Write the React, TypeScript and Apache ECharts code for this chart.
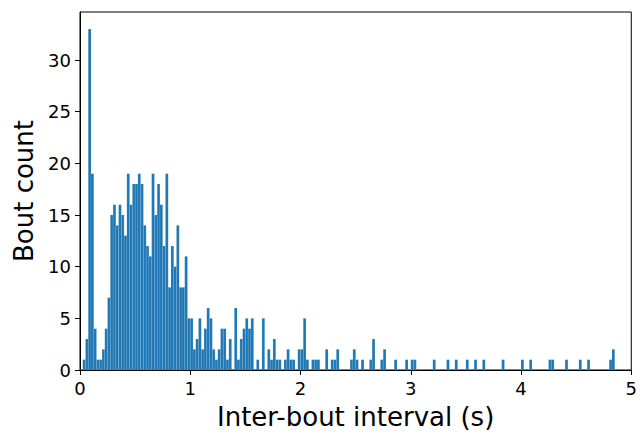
import React, { useEffect, useRef } from "react";
import * as echarts from "echarts";

// Histogram of inter-bout intervals: bin i covers [i*BIN_WIDTH, (i+1)*BIN_WIDTH)
const BIN_WIDTH = 0.025;
const counts: number[] = [
  0, 1, 3, 33, 19, 4, 1, 1, 2, 4, 7, 15, 16, 14, 16, 15, 13, 19, 16, 18,
  18, 19, 18, 14, 12, 11, 19, 15, 18, 16, 12, 19, 8, 12, 10, 14, 8, 8, 11, 5,
  5, 2, 3, 5, 2, 4, 6, 5, 2, 1, 2, 4, 4, 1, 3, 0, 6, 1, 3, 4,
  5, 4, 5, 0, 1, 0, 5, 0, 2, 1, 3, 1, 1, 0, 1, 2, 1, 1, 0, 2,
  2, 5, 1, 0, 1, 1, 1, 0, 0, 2, 0, 1, 1, 2, 0, 0, 0, 0, 1, 2,
  1, 0, 1, 0, 0, 1, 3, 0, 0, 1, 2, 0, 0, 0, 1, 0, 0, 0, 1, 0,
  1, 1, 0, 0, 0, 0, 0, 0, 1, 0, 0, 0, 0, 1, 0, 0, 1, 0, 0, 0,
  1, 0, 0, 1, 0, 0, 1, 0, 0, 0, 0, 0, 0, 1, 0, 0, 0, 0, 0, 0,
  1, 0, 0, 1, 0, 0, 0, 0, 0, 0, 1, 1, 0, 0, 0, 0, 1, 0, 0, 0,
  0, 1, 0, 0, 1, 0, 0, 0, 0, 0, 0, 0, 1, 2,
];
const xTicks = [0, 1, 2, 3, 4, 5];
const yTicks = [0, 5, 10, 15, 20, 25, 30];
const X_LABEL = "Inter-bout interval (s)";
const Y_LABEL = "Bout count";

const FONT = "DejaVu Sans";
const BAR_COLOR = "#1f77b4";

export default function App() {
  const ref = useRef<HTMLDivElement>(null);
  useEffect(() => {
    if (!ref.current) return;
    const chart = echarts.init(ref.current, null, { renderer: "svg" });
    const data = counts
      .map((c, i) => [i * BIN_WIDTH, (i + 1) * BIN_WIDTH, c])
      .filter((d) => d[2] > 0);
    chart.setOption({
      animation: false,
      grid: {
        left: 80,
        top: 12,
        width: 556,
        height: 359,
        show: true,
        borderColor: "#000",
        borderWidth: 1,
        backgroundColor: "transparent",
      },
      xAxis: {
        type: "value",
        min: 0,
        max: 5,
        interval: 1,
        name: X_LABEL,
        nameLocation: "middle",
        nameGap: 34,
        nameTextStyle: { fontFamily: FONT, fontSize: 26, color: "#000" },
        axisLine: { show: true, onZero: false, lineStyle: { color: "#000", width: 1 } },
        axisTick: { show: true, length: 5, lineStyle: { color: "#000" }, customValues: xTicks },
        axisLabel: { fontFamily: FONT, fontSize: 18, color: "#000", margin: 9, customValues: xTicks },
        splitLine: { show: false },
      },
      yAxis: {
        type: "value",
        min: 0,
        max: 34.65,
        name: Y_LABEL,
        nameLocation: "middle",
        nameGap: 42,
        nameTextStyle: { fontFamily: FONT, fontSize: 26, color: "#000" },
        axisLine: { show: true, onZero: false, lineStyle: { color: "#000", width: 1 } },
        axisTick: { show: true, length: 5, lineStyle: { color: "#000" }, customValues: yTicks },
        axisLabel: { fontFamily: FONT, fontSize: 18, color: "#000", margin: 9, customValues: yTicks },
        splitLine: { show: false },
      },
      series: [
        {
          type: "custom",
          data,
          encode: { x: [0, 1], y: 2 },
          renderItem: (params: any, api: any) => {
            const x0 = api.value(0);
            const x1 = api.value(1);
            const y = api.value(2);
            const p0 = api.coord([x0, 0]);
            const p1 = api.coord([x1, y]);
            return {
              type: "rect",
              shape: { x: p0[0], y: p1[1], width: p1[0] - p0[0], height: p0[1] - p1[1] },
              style: { fill: BAR_COLOR, stroke: "rgba(255,255,255,0.25)", lineWidth: 0.4 },
            };
          },
        },
      ],
    });
    return () => chart.dispose();
  }, []);
  return (
    <div
      ref={ref}
      style={{ position: "absolute", left: 0, top: 0, width: 640, height: 435, background: "#fff" }}
    />
  );
}
